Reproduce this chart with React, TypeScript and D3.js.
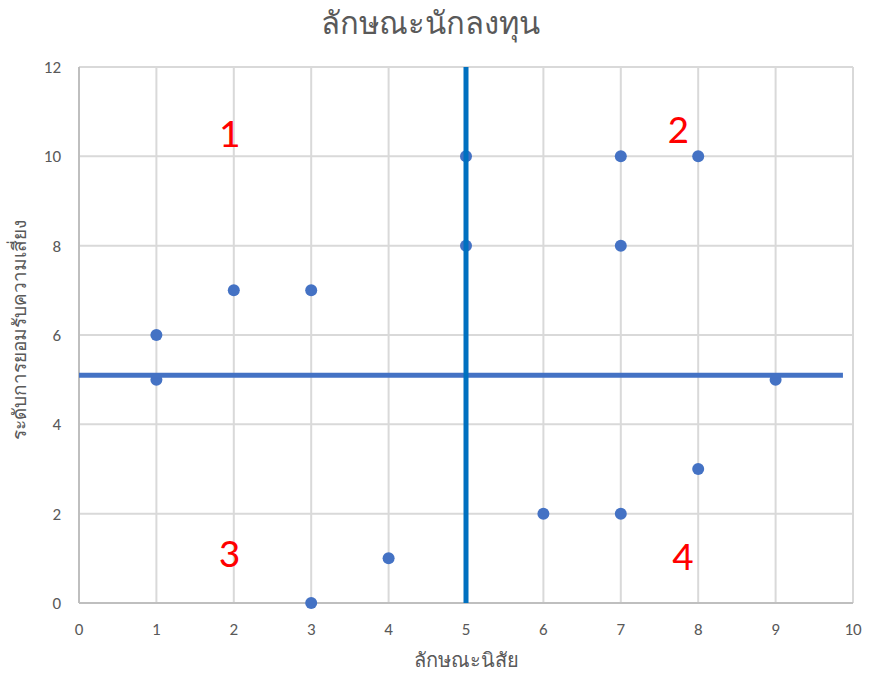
import * as d3 from "d3";
import { useEffect, useRef } from "react";

const xValues = [1, 1, 2, 3, 3, 4, 5, 5, 6, 7, 7, 7, 8, 8, 9];
const yValues = [6, 5, 7, 7, 0, 1, 10, 8, 2, 10, 8, 2, 10, 3, 5];
const xTicks = [0, 1, 2, 3, 4, 5, 6, 7, 8, 9, 10];
const yTicks = [0, 2, 4, 6, 8, 10, 12];
const quadrantLabels = ["1", "2", "3", "4"];
const quadrantX = [1.94, 7.74, 1.94, 7.8];
const quadrantY = [10.2, 10.3, 0.8, 0.75];
const splitX = 5;
const splitY = 5.1;
const splitYEnd = 9.87;

const title = "ลักษณะนักลงทุน";
const xTitle = "ลักษณะนิสัย";
const yTitle = "ระดับการยอมรับความเสี่ยง";

export default function App() {
  const svgRef = useRef<SVGSVGElement | null>(null);

  useEffect(() => {
    if (!svgRef.current) return;
    const svg = d3.select(svgRef.current);
    svg.selectAll("*").remove();

    const width = 869;
    const height = 673;
    const margin = { top: 67, right: 16, bottom: 70, left: 79 };
    const font = "Calibri, 'Noto Sans', 'DejaVu Sans', sans-serif";

    const x = d3.scaleLinear().domain([0, 10]).range([margin.left, width - margin.right]);
    const y = d3.scaleLinear().domain([0, 12]).range([height - margin.bottom, margin.top]);

    svg.append("rect").attr("width", width).attr("height", height).attr("fill", "#fff");

    // grid
    svg.append("g")
      .selectAll("line")
      .data(xTicks.slice(1))
      .enter()
      .append("line")
      .attr("x1", d => x(d)).attr("x2", d => x(d))
      .attr("y1", y(0)).attr("y2", y(12))
      .attr("stroke", "#d9d9d9").attr("stroke-width", 2);

    svg.append("g")
      .selectAll("line")
      .data(yTicks.slice(1))
      .enter()
      .append("line")
      .attr("x1", x(0)).attr("x2", x(10))
      .attr("y1", d => y(d)).attr("y2", d => y(d))
      .attr("stroke", "#d9d9d9").attr("stroke-width", 2);

    // axes lines
    svg.append("line")
      .attr("x1", x(0)).attr("x2", x(10)).attr("y1", y(0)).attr("y2", y(0))
      .attr("stroke", "#bfbfbf").attr("stroke-width", 2);
    svg.append("line")
      .attr("x1", x(0)).attr("x2", x(0)).attr("y1", y(0)).attr("y2", y(12))
      .attr("stroke", "#bfbfbf").attr("stroke-width", 2);

    // tick labels
    svg.append("g")
      .selectAll("text")
      .data(xTicks)
      .enter()
      .append("text")
      .attr("x", d => x(d))
      .attr("y", y(0) + 32)
      .attr("text-anchor", "middle")
      .attr("font-family", font)
      .attr("font-size", 17)
      .attr("fill", "#595959")
      .text(d => d);

    svg.append("g")
      .selectAll("text")
      .data(yTicks)
      .enter()
      .append("text")
      .attr("x", x(0) - 18)
      .attr("y", d => y(d) + 6)
      .attr("text-anchor", "end")
      .attr("font-family", font)
      .attr("font-size", 17)
      .attr("fill", "#595959")
      .text(d => d);

    // titles
    svg.append("text")
      .attr("x", 430).attr("y", 34)
      .attr("text-anchor", "middle")
      .attr("font-family", font).attr("font-size", 31)
      .attr("fill", "#595959")
      .text(title);

    svg.append("text")
      .attr("x", 466).attr("y", 667)
      .attr("text-anchor", "middle")
      .attr("font-family", font).attr("font-size", 20)
      .attr("fill", "#595959")
      .text(xTitle);

    svg.append("text")
      .attr("transform", `translate(26,330) rotate(-90)`)
      .attr("text-anchor", "middle")
      .attr("font-family", font).attr("font-size", 19)
      .attr("fill", "#595959")
      .text(yTitle);

    // points
    svg.append("g")
      .selectAll("circle")
      .data(xValues)
      .enter()
      .append("circle")
      .attr("cx", d => x(d))
      .attr("cy", (_, i) => y(yValues[i]))
      .attr("r", 6)
      .attr("fill", "#4472c4");

    // split lines
    svg.append("line")
      .attr("x1", x(0)).attr("x2", x(splitYEnd))
      .attr("y1", y(splitY)).attr("y2", y(splitY))
      .attr("stroke", "#4472c4").attr("stroke-width", 5);
    svg.append("line")
      .attr("x1", x(splitX)).attr("x2", x(splitX))
      .attr("y1", y(0)).attr("y2", y(12))
      .attr("stroke", "#0070c0").attr("stroke-width", 5);

    // quadrant labels
    svg.append("g")
      .selectAll("text")
      .data(quadrantLabels)
      .enter()
      .append("text")
      .attr("x", (_, i) => x(quadrantX[i]))
      .attr("y", (_, i) => y(quadrantY[i]))
      .attr("text-anchor", "middle")
      .attr("font-family", font)
      .attr("font-size", 42)
      .attr("fill", "#ff0000")
      .text(d => d);
  }, []);

  return <svg ref={svgRef} width={869} height={673} style={{ position: "absolute", left: 0, top: 0 }}></svg>;
}
